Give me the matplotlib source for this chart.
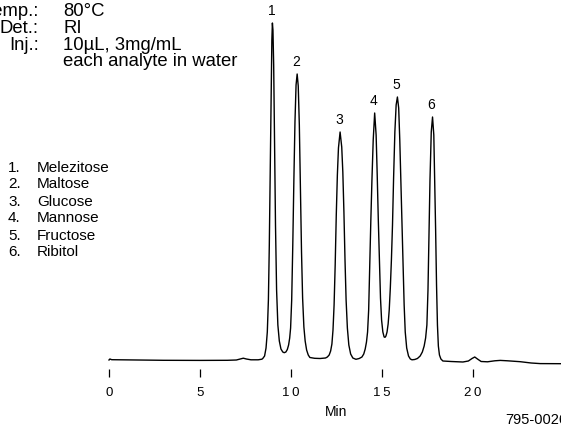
import matplotlib
matplotlib.use("Agg")
import matplotlib.pyplot as plt

# ─────────────────────────────────────────────────────────────────────────────
# DATA (detector signal in arbitrary units)
TIME_MIN = [
    0.0, 0.05, 0.15, 1.5, 3.0, 5.0, 6.5, 7.0, 7.2, 7.38, 7.55, 7.8, 8.2, 8.40,
    # peak 1
    8.45, 8.55, 8.63, 8.70, 8.76, 8.81, 8.86, 8.91, 8.95, 8.98, 9.01, 9.05,
    9.10, 9.15, 9.21, 9.28, 9.36, 9.45, 9.55, 9.63,
    # peak 2
    9.72, 9.80, 9.87, 9.93, 9.98, 10.04, 10.10, 10.16, 10.22, 10.28, 10.34,
    10.40, 10.46, 10.52, 10.58, 10.64, 10.71, 10.78, 10.86, 10.95, 11.04,
    11.30, 11.60, 11.90,
    # peak 3
    12.00, 12.10, 12.18, 12.25, 12.31, 12.37, 12.43, 12.49, 12.55, 12.61,
    12.70, 12.79, 12.85, 12.91, 12.97, 13.03, 13.10, 13.18, 13.28, 13.40,
    13.57,
    # peak 4
    13.75, 13.90, 14.00, 14.08, 14.15, 14.21, 14.27, 14.33, 14.39, 14.45,
    14.52, 14.60, 14.68, 14.74, 14.80, 14.86, 14.92, 14.98, 15.05, 15.12,
    15.17,
    # peak 5
    15.22, 15.28, 15.34, 15.40, 15.46, 15.52, 15.58, 15.64, 15.71, 15.78,
    15.85, 15.92, 15.98, 16.04, 16.10, 16.16, 16.22, 16.28, 16.36, 16.46,
    16.56, 16.65,
    # peak 6
    16.80, 16.95, 17.10, 17.22, 17.32, 17.40, 17.47, 17.53, 17.58, 17.64,
    17.71, 17.78, 17.85, 17.90, 17.95, 18.00, 18.05, 18.10, 18.16, 18.24,
    18.35,
    # tail
    18.8, 19.45, 19.75, 19.95, 20.10, 20.25, 20.45, 20.8, 21.2, 21.5, 21.9,
    22.6, 23.2, 23.7, 24.9,
]
SIGNAL = [
    0.0, 1.0, 0.3, 0.0, -0.3, -0.4, -0.3, 0.0, 1.0, 1.8, 1.0, 0.2, 0.2, 0.8,
    1.5, 4, 12, 28, 60, 115, 190, 270, 320, 337, 330, 295,
    215, 135, 70, 35, 19, 11, 8, 7.3,
    8, 10.5, 15, 22, 32, 60, 115, 180, 238, 275, 286,
    274, 235, 170, 108, 62, 33, 19, 10, 5, 2.5,
    1.7, 1.5, 2.0,
    3, 5, 9, 16, 30, 55, 95, 145, 185, 212,
    228, 213, 188, 148, 100, 60, 32, 15, 6, 2,
    0.7,
    1.5, 3, 6, 11, 18, 28, 50, 95, 140, 180,
    220, 247, 225, 185, 140, 100, 62, 40, 28, 23,
    22.7,
    24, 28, 36, 50, 72, 100, 135, 182, 228, 255,
    263, 252, 220, 178, 132, 90, 55, 28, 12, 4,
    1, 0.2,
    0.5, 1.5, 4, 8, 14, 22, 35, 70, 120, 180,
    228, 243, 225, 180, 130, 75, 35, 14, 5, 1,
    -1,
    -1.5, -2, -1, 1.5, 3, 1, -1.5, -1.8, -0.8, -0.4, -0.8,
    -1.7, -3, -3.6, -3.7,
]

PEAK_IDS = ["1", "2", "3", "4", "5", "6"]
PEAK_TIMES = [8.98, 10.34, 12.70, 14.60, 15.85, 17.78]
PEAK_TOPS = [337, 286, 228, 247, 263, 243]

COMPOUNDS = ["Melezitose", "Maltose", "Glucose", "Mannose", "Fructose", "Ribitol"]

COND_LABELS = ["Temp.:", "Det.:", "Inj.:", ""]
COND_VALUES = ["80°C", "RI", "10µL, 3mg/mL", "each analyte in water"]

XTICKS = [0, 5, 10, 15, 20]
XTICK_LABELS = ["0", "5", "1\u20090", "1\u20095", "2\u20090"]
# ─────────────────────────────────────────────────────────────────────────────

FONT = ["Liberation Sans", "DejaVu Sans"]


def main():
    fig = plt.figure(figsize=(5.61, 4.26), dpi=100)
    ax = fig.add_axes([0, 0, 1, 1])
    ax.set_xlim(-5.99, 24.84)
    ax.set_ylim(-66, 360)
    ax.axis("off")

    # chromatogram trace
    ax.plot(TIME_MIN, SIGNAL, color="black", lw=1.0)

    # peak numbers
    for pid, t, top in zip(PEAK_IDS, PEAK_TIMES, PEAK_TOPS):
        ax.text(t - 0.05, top + 5, pid, ha="center", va="bottom",
                fontsize=10, family=FONT)

    # hand-drawn style time axis (ticks only, no spine)
    ax.vlines(XTICKS, -17, -9, color="black", lw=0.9)
    for t, lab in zip(XTICKS, XTICK_LABELS):
        ax.text(t, -36, lab, ha="center", va="baseline", fontsize=9.5,
                family=FONT)
    ax.text(12.5, -56, "Min", ha="center", va="baseline", fontsize=10,
            family=["Liberation Sans Narrow"] + FONT)
    ax.text(21.76, -63.5, "795-0026", ha="left", va="baseline",
            fontsize=10.5, family=FONT)

    # run conditions
    base_y = [343.5, 327, 310.5, 294]
    for y, lab, val in zip(base_y, COND_LABELS, COND_VALUES):
        ax.text(-3.85, y, lab, ha="right", va="baseline", fontsize=13.3,
                family=FONT)
        ax.text(-2.51, y, val, ha="left", va="baseline", fontsize=13.3,
                family=FONT)

    # compound list
    for i, name in enumerate(COMPOUNDS):
        y = 188.5 - 17 * i
        ax.text(-5.55, y, f"{i + 1}.", ha="left", va="baseline",
                fontsize=11, family=FONT)
        ax.text(-3.97, y, name, ha="left", va="baseline", fontsize=11,
                family=FONT)

    fig.savefig("out.png", dpi=100)


if __name__ == "__main__":
    main()
